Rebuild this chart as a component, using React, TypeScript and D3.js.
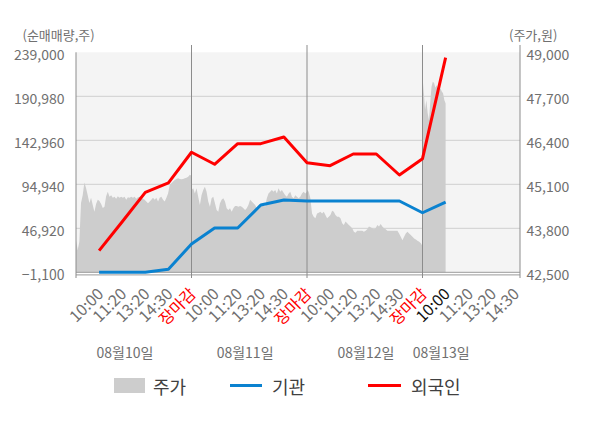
import React from "react";
import * as d3 from "d3";

// ---- data ----
const dates = ["08월10일", "08월11일", "08월12일", "08월13일"];
const timeLabels = [
  "10:00", "11:20", "13:20", "14:30", "장마감",
  "10:00", "11:20", "13:20", "14:30", "장마감",
  "10:00", "11:20", "13:20", "14:30", "장마감",
  "10:00", "11:20", "13:20", "14:30",
];
const leftTicks = [-1100, 46920, 94940, 142960, 190980, 239000];
const rightTicks = [42500, 43800, 45100, 46400, 47700, 49000];

// 외국인 / 기관 cumulative net buying (shares), one per time slot 1..16
const foreign = [22500, 54100, 86200, 96400, 129900, 116800, 139300, 139300, 146600, 118500, 115300, 128000, 128000, 105100, 122900, 233100];
const institution = [-1100, -1100, -1100, 2200, 29800, 47200, 47200, 72400, 77800, 76700, 76700, 76700, 76700, 76700, 63900, 75600];

// 주가 (won), sampled through each session
const priceDay1 = [43450, 43160, 43400, 44550, 44780, 45150, 44990, 44780, 44550, 44700, 44490, 44290, 44520, 44640, 44610, 44520, 44400, 44440, 44750, 44880, 44730, 44780, 44700, 44730, 44670, 44750, 44700, 44730, 44700, 44730, 44640, 44720, 44700, 44730, 44700, 44730, 44670, 44720, 44730, 44700, 44670, 44640, 44590, 44540, 44590, 44640, 44700, 44640, 44700, 44590, 44700, 44730, 44640, 44590, 44700, 44830, 45080, 45130, 45180, 45230, 45260, 45280, 45260, 45250, 45260, 45280, 45290, 45320, 45380, 45350];
const priceDay2 = [44930, 44980, 44830, 44980, 44730, 44490, 44780, 44930, 45030, 44880, 44590, 44440, 44690, 44730, 44540, 44340, 44290, 44540, 44640, 44690, 44590, 44390, 44340, 44390, 44290, 44390, 44460, 44460, 44440, 44460, 44440, 44390, 44340, 44390, 44490, 44640, 44590, 44540, 44490, 44390, 44440, 44490, 44490, 44490, 44440, 44690, 44830, 44880, 44930, 44880, 44930, 44830, 44980, 44880, 44930, 44850, 44780, 44730, 44830, 44880, 44730, 44690, 44780, 44730, 44690, 44730, 44830, 44880, 44830, 44880];
const priceDay3 = [44930, 44880, 44690, 44240, 44140, 44100, 44240, 44260, 44290, 44240, 44290, 44190, 44100, 44140, 44190, 44320, 44290, 44190, 44140, 44140, 44100, 43950, 43900, 44000, 43950, 43900, 43850, 43800, 43700, 43670, 43730, 43730, 43730, 43730, 43700, 43730, 43770, 43850, 43830, 43800, 43770, 43800, 43900, 43850, 43930, 43850, 43800, 43770, 43730, 43730, 43730, 43730, 43730, 43730, 43730, 43650, 43550, 43450, 43550, 43650, 43700, 43650, 43600, 43550, 43500, 43470, 43430, 43400, 43360, 43280];
const priceDay4 = [48280, 47800, 47300, 47590, 47210, 47000, 47500, 47980, 48130, 48090, 47950, 48030, 47890, 47840, 47940, 47840, 47790, 47590, 47490];

// ---- layout ----
const W = 600, H = 428;
const PL = 76, PR = 520, PT = 52.3, PB = 272.3;
const SLOTS_PER_DAY = 5;
const X_MAX = 19.22;
const dateLabelAt = [2.12, 7.32, 12.55, 15.81];
const FONT = "'Noto Sans CJK KR', 'Noto Sans', sans-serif";

export default function App() {
  const x = d3.scaleLinear().domain([0, X_MAX]).range([PL, PR]);
  const yL = d3.scaleLinear().domain([-1100, 239000]).range([PB, PT]);
  const yR = d3.scaleLinear().domain([42500, 49000]).range([PB, PT]);

  const days = [priceDay1, priceDay2, priceDay3, priceDay4];
  const pricePts: { i: number; p: number }[] = [];
  days.forEach((arr, d) => {
    const start = d * SLOTS_PER_DAY;
    const span = d < 3 ? SLOTS_PER_DAY : 1;
    arr.forEach((p, j) => {
      pricePts.push({ i: start + (j / (arr.length - 1)) * span, p });
    });
  });

  const area = d3
    .area<{ i: number; p: number }>()
    .x((d) => x(d.i))
    .y0(yR(42500))
    .y1((d) => yR(d.p));

  const line = d3
    .line<number>()
    .x((_, k) => x(k + 1))
    .y((v) => yL(v));

  const dayLines = [1, 2, 3].map((d) => x(d * SLOTS_PER_DAY));
  const fmt = d3.format(",");

  return (
    <svg
      width={W}
      height={H}
      style={{ position: "absolute", left: 0, top: 0, background: "#fff" }}
      fontFamily={FONT}
    >
      {/* plot background */}
      <rect x={PL} y={PT} width={PR - PL} height={PB - PT} fill="#f4f4f4" />
      {/* grid */}
      {leftTicks.slice(1, -1).map((t) => (
        <line key={t} x1={PL} x2={PR} y1={yL(t)} y2={yL(t)} stroke="#d6d6d6" strokeWidth={1.2} />
      ))}
      {/* price area */}
      <path d={area(pricePts) || ""} fill="#cdcdcd" />
      {/* bottom lines */}
      <line x1={PL} x2={PR} y1={PB} y2={PB} stroke="#9a9a9a" strokeWidth={1} />
      <line x1={PL} x2={PR} y1={PB + 2.6} y2={PB + 2.6} stroke="#9a9a9a" strokeWidth={1} />
      {/* day separators */}
      {dayLines.map((dx, k) => (
        <line key={k} x1={dx} x2={dx} y1={45} y2={278} stroke="#8c8c8c" strokeWidth={1} />
      ))}
      <line x1={PL} x2={PL} y1={PT} y2={278} stroke="#8c8c8c" strokeWidth={1} />
      <line x1={PR} x2={PR} y1={45} y2={278} stroke="#8c8c8c" strokeWidth={1} />

      {/* series lines */}
      <path d={line(institution) || ""} fill="none" stroke="#0a82d0" strokeWidth={3} strokeLinejoin="round" />
      <path d={line(foreign) || ""} fill="none" stroke="#ff0000" strokeWidth={3} strokeLinejoin="round" />

      {/* left axis labels */}
      {leftTicks.map((t) => (
        <text key={t} x={64.5} y={yL(t) + 1.8} textAnchor="end" dominantBaseline="central" fontSize={14} fill="#707070">
          {fmt(t)}
        </text>
      ))}
      {rightTicks.map((t) => (
        <text key={t} x={526.5} y={yR(t) + 1.8} textAnchor="start" dominantBaseline="central" fontSize={14} fill="#707070">
          {fmt(t)}
        </text>
      ))}
      <text x={22.5} y={34} dominantBaseline="central" fontSize={13} fill="#707070">(순매매량,주)</text>
      <text x={509} y={34} dominantBaseline="central" fontSize={13} fill="#707070">(주가,원)</text>

      {/* x tick labels */}
      {timeLabels.map((lab, k) => {
        const px = x(k + 1);
        const color = lab === "장마감" ? "#ff0000" : k === 15 ? "#111" : "#707070";
        return (
          <text
            key={k}
            transform={`translate(${px + 0.5},${290}) rotate(-45)`}
            textAnchor="end"
            dominantBaseline="central"
            fontSize={16}
            fill={color}
          >
            {lab}
          </text>
        );
      })}
      {/* date labels */}
      {dates.map((dt, k) => (
        <text key={dt} x={x(dateLabelAt[k])} y={352} textAnchor="middle" dominantBaseline="central" fontSize={14} fill="#707070">
          {dt}
        </text>
      ))}

      {/* legend */}
      <rect x={114} y={378} width={31} height={15} fill="#cdcdcd" />
      <text x={153} y={385.5} dominantBaseline="central" fontSize={18} fill="#404040">주가</text>
      <line x1={230} x2={262} y1={385.5} y2={385.5} stroke="#0a82d0" strokeWidth={3} />
      <text x={272} y={385.5} dominantBaseline="central" fontSize={18} fill="#404040">기관</text>
      <line x1={368} x2={401} y1={385.5} y2={385.5} stroke="#ff0000" strokeWidth={3} />
      <text x={411} y={385.5} dominantBaseline="central" fontSize={18} fill="#404040">외국인</text>
    </svg>
  );
}
